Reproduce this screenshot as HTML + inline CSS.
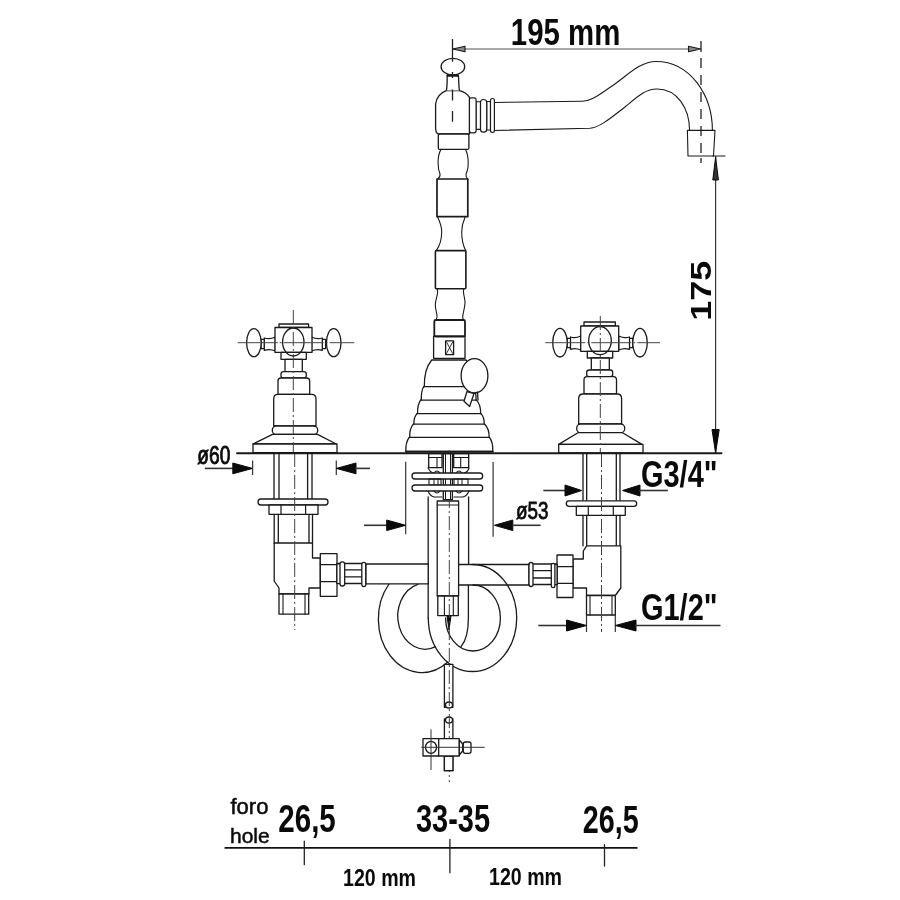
<!DOCTYPE html>
<html><head><meta charset="utf-8">
<style>
html,body{margin:0;padding:0;background:#fff;width:900px;height:900px;overflow:hidden}
svg{display:block;will-change:transform}
text{font-family:"Liberation Sans",sans-serif;fill:#0a0a0a}
.o{fill:none;stroke:#1a1a1a;stroke-width:1.3;stroke-linejoin:round;stroke-linecap:round}
.w{fill:#fff;stroke:#1a1a1a;stroke-width:1.3;stroke-linejoin:round}
.d{fill:none;stroke:#555;stroke-width:1.2}
.c{fill:none;stroke:#444;stroke-width:1;stroke-dasharray:14 3 2 3}
.k{fill:#0a0a0a;stroke:#0a0a0a;stroke-width:1;stroke-linejoin:round}
</style></head>
<body>
<svg width="900" height="900" viewBox="0 0 900 900">
<rect width="900" height="900" fill="#fff"/>

<!-- ===== 195 mm dimension ===== -->
<g id="dim195">
<text x="510.8" y="45" font-size="36.5" font-weight="bold" textLength="109.5" lengthAdjust="spacingAndGlyphs">195 mm</text>
<path class="d" d="M452.4,49 H701"/>
<path class="o" style="stroke-width:1.1;fill:#888" d="M452.8,49 L465,46.2 L465,51.8 Z"/>
<path class="o" style="stroke-width:1.1;fill:#888" d="M700.6,49 L688.5,46.2 L688.5,51.8 Z"/>
<path class="d" style="stroke:#222;stroke-width:1.3" d="M701,41 V52 M701,58 V68 M701,75 V85 M701,92 V102 M701,109 V119 M701,126 V136 M701,143 V153 M701,158 V163"/>
</g>

<!-- ===== spout ===== -->
<g id="spout">
<path class="o" style="stroke-width:1.1" d="M494,102.5 L582,101.3 C592,101 600,94 612,86 C628,75 640,61.5 656,61.5 C690,61.5 712.4,95 712.4,130.5"/>
<path class="o" style="stroke-width:1.1" d="M494,130.5 L590,128.2 C600,127.5 612,117 625,107 C637,97 645,89 657,89 C677,89 689.6,108 689.6,130.5"/>
<path class="o" style="stroke-width:1.1" d="M687.4,130.4 L715,130.4 L713.5,156 L688,156 Z"/>
<path class="o" style="stroke-width:1.2" d="M713,156 H725"/>
<!-- rings -->
<path class="w" style="stroke-width:1.1" d="M476.1,101.7 H480.5 V129.4 H476.1 Z"/>
<path class="w" style="stroke-width:1.1" d="M486.7,101.5 H490.5 V130 H486.7 Z"/>
<rect class="w" style="stroke-width:1.2" x="469.4" y="97.8" width="6.7" height="35" rx="2"/>
<rect class="w" style="stroke-width:1.2" x="480.5" y="99.5" width="6.2" height="32.7" rx="3"/>
<rect class="w" style="stroke-width:1.2" x="490.5" y="98.5" width="3.9" height="34" rx="1.9"/>
<!-- body -->
<path class="w" d="M438.3,134 Q435.6,133 435.6,128 L435.6,104 Q437,94 446.4,90.6 L459.4,90.6 Q466,92 469.4,97.2 L469.4,134 Z"/>
<path class="w" d="M446.4,90.6 C447.5,85 447,79 447.2,75 H458.3 C459,79 458.5,85 459.4,90.6"/>
<path class="o" style="stroke-width:2" d="M447.5,75.8 H458"/>
<ellipse class="w" cx="452.9" cy="66.7" rx="11.8" ry="8.3"/>
<rect class="w" x="438.3" y="134" width="30.6" height="15.4" rx="1.5"/>
<path class="d" style="stroke:#222;stroke-width:1.3" d="M452.5,39 V61.7 M452.5,72 V78 M452.5,89.4 V100.6 M452.5,111 V121.7"/>
</g>

<!-- ===== column ===== -->
<g id="column">
<path class="o" style="stroke-width:1.1" d="M441,149.4 C437,156 437.5,168 440,174 Q440.5,177 437.7,179"/>
<path class="o" style="stroke-width:1.1" d="M465.5,149.4 C469,156 469,168 466,174 Q465.7,177 467.7,179"/>
<rect class="o" style="stroke-width:1.7" x="437" y="179" width="30.8" height="37.7"/>
<path class="o" style="stroke-width:1.1" d="M437.7,217.3 C440,222 441.7,227 441.7,232 C441.7,238 441,244 436.3,250.6"/>
<path class="o" style="stroke-width:1.1" d="M465,217.3 C463,222 461.7,227 461.7,232 C461.7,238 462.3,244 465.7,250.6"/>
<rect class="o" style="stroke-width:1.6" x="435.4" y="250.6" width="30.5" height="38.2" rx="1"/>
<path class="o" style="stroke-width:1.1" d="M437.3,289.3 C439,293 435,300 435.3,305.3 C435.5,311 437.5,314 437,317.3 Q436.5,319 435.7,320"/>
<path class="o" style="stroke-width:1.1" d="M463.7,289.3 C462.5,293 465.5,299 465,303.3 C464.5,310 462.5,314 462.7,317.3 Q463,319 463.7,320"/>
<rect class="o" style="stroke-width:1.8" x="434.3" y="320" width="30.7" height="16.5" rx="1.5"/>
<rect class="o" style="stroke-width:1.3" x="433.6" y="336.1" width="31.4" height="22.2"/>
<rect class="o" style="stroke-width:1.3" x="445.6" y="340.8" width="8" height="13.9"/>
<path class="o" style="stroke-width:0.9" d="M446.5,342 L452.7,353.5 M452.7,342 L446.5,353.5"/>
</g>

<!-- ===== cone base ===== -->
<g id="cone">
<path class="w" d="M431.7,360.0 L466.0,360.0 Q472.8,369.3 472.5,386.7 L473.0,386.7 Q476.3,391.4 476.0,400.1 L476.5,400.1 Q480.9,404.8 480.6,413.6 L481.0,413.6 Q484.5,417.3 484.2,424.2 L484.7,424.2 Q489.4,428.8 489.1,437.4 L489.5,437.4 Q493.1,442.3 492.8,451.5 L405.8,451.5 Q405.5,442.3 409.2,437.4 L409.7,437.4 Q409.4,428.8 413.3,424.2 L413.9,424.2 Q413.6,417.3 417.0,413.6 L417.6,413.6 Q417.3,404.8 420.6,400.1 L421.3,400.1 Q421.0,391.4 423.6,386.7 L424.3,386.7 Q424.0,369.3 431.7,360.0 Z"/>
<path class="o" d="M423.6,386.7 H473.0 M420.6,400.1 H476.5 M417.0,413.6 H481.0 M413.3,424.2 H484.7 M409.2,437.4 H489.5"/>
<path class="o" style="stroke-width:1.8" d="M405.8,451.6 H492.8"/>
<ellipse class="w" cx="474.5" cy="375.7" rx="13.4" ry="17.1"/>
<path class="w" d="M467,391.5 L464,401.3 L469.6,406.5 L474,393.5 Z"/>
<path class="o" d="M474,393.5 L477.5,392 L478,400"/>
</g>


<!-- ===== left handle ===== -->
<g id="lh">
<rect class="w" x="279" y="324" width="29.6" height="3.5"/>
<rect class="w" x="261" y="339.3" width="3.5" height="9.4"/>
<path class="w" d="M264.3,338 Q270,339.8 275.3,337 L275.3,351 Q270,348.5 264.3,350.3 Z"/>
<rect class="w" x="322.1" y="339.3" width="3.5" height="9.4"/>
<path class="w" d="M311.5,337 Q317,339.8 322.3,338 L322.3,350.3 Q317,348.5 311.5,351 Z"/>
<ellipse class="w" cx="253.9" cy="342.7" rx="7.3" ry="14"/>
<ellipse class="w" cx="333.7" cy="342.7" rx="7.3" ry="14"/>
<rect class="w" x="275" y="327.5" width="37" height="24.9"/>
<path class="w" d="M281,352.4 H306.3 V359.3 H281 Z"/>
<ellipse class="w" style="fill:none" cx="293.3" cy="342" rx="10.7" ry="14"/>
<rect class="w" x="285" y="359.3" width="17.3" height="12.3"/>
<rect class="w" x="281" y="371.6" width="25.3" height="6.4" rx="2.5"/>
<path class="w" d="M278,394.4 V381 Q278,378 281,378 H306.5 Q309.7,378 309.7,381 V394.4 Z"/>
<path class="w" d="M273.7,426 V399 Q273.7,394.4 278,394.4 H311.7 Q316,394.4 316,399 V426 Z"/>
<rect class="w" x="272.3" y="426" width="45.4" height="8.4" rx="4"/>
<path class="w" d="M272.5,434.4 L253,444 H336.3 L317.5,434.4 Z"/>
<rect class="w" x="253" y="444" width="84" height="8.7"/>
<path class="c" d="M293.3,310 V453"/>
<path class="c" style="stroke-dasharray:40 2 2 2" d="M237.7,342.7 H354.3"/>
</g>

<!-- ===== right handle ===== -->
<g id="rh">
<rect class="w" x="584" y="322" width="31.3" height="4"/>
<rect class="w" x="567.2" y="338.3" width="3.5" height="9.4"/>
<path class="w" d="M570.5,337 Q575.5,338.8 580.7,336 L580.7,350 Q575.5,347.5 570.5,349.3 Z"/>
<rect class="w" x="629.3" y="338.3" width="3.5" height="9.4"/>
<path class="w" d="M618.7,336 Q624,338.8 629.5,337 L629.5,349.3 Q624,347.5 618.7,350 Z"/>
<ellipse class="w" cx="560" cy="342.7" rx="7.3" ry="14.3"/>
<ellipse class="w" cx="640" cy="342.7" rx="7.3" ry="14.3"/>
<rect class="w" x="580.7" y="326" width="38" height="25.3"/>
<path class="w" d="M587.3,351.3 H612.7 V358 H587.3 Z"/>
<ellipse class="w" style="fill:none" cx="600" cy="340.7" rx="11.3" ry="14"/>
<rect class="w" x="591.3" y="358" width="18" height="12"/>
<rect class="w" x="586.7" y="370" width="26" height="6.7" rx="2.5"/>
<path class="w" d="M584,394 V380 Q584,376.7 587,376.7 H613.5 Q616.5,376.7 616.5,380 V394 Z"/>
<path class="w" d="M578.7,424 V398.5 Q578.7,394 583,394 H617.3 Q621.6,394 621.6,398.5 V424 Z"/>
<rect class="w" x="576.7" y="424" width="48" height="8.7" rx="4"/>
<path class="w" d="M578,432.7 L558.7,444.4 H642 L622.5,432.7 Z"/>
<rect class="w" x="558.7" y="444.4" width="84.3" height="8.6"/>
<path class="c" d="M600.3,316 V453"/>
<path class="c" style="stroke-dasharray:40 2 2 2" d="M545.3,342.7 H660"/>
</g>


<!-- ===== rings / loops ===== -->
<g id="loops">
<path class="o" d="M472.5,564.5 A44.2,53.5 0 1 1 428.3,618"/>
<path class="o" d="M473,585 A27.4,33 0 1 1 445.6,618"/>
<path class="o" d="M389,584 A43.5,53.5 0 0 0 447.8,662"/>
<path class="o" d="M468.4,585.5 V618 Q468.4,638 461,646.7"/>
<path class="o" d="M417.8,584.4 A27.4,33 0 1 0 435.6,646.7"/>
</g>

<!-- ===== central pipe & rod ===== -->
<g id="center">
<path class="o" d="M428.2,497 V618"/>
<path class="o" d="M468.6,497 V564.3"/>
<rect class="w" x="437.2" y="501" width="21.4" height="95"/>
<path class="o" style="stroke-width:1.2" d="M437.2,505 H458.6"/>
<rect class="w" x="437.8" y="596" width="20.5" height="19.6"/>
<path class="o" style="stroke-width:1.1" d="M444.4,596 V615.6 M453.3,596 V615.6"/>
<path class="k" d="M447,615.6 L449,630 L451,615.6 Z"/>
<rect class="w" x="444.4" y="664.3" width="8.5" height="43"/>
<ellipse class="w" cx="449" cy="705" rx="3.5" ry="3"/>
<rect class="w" x="444.4" y="719" width="8.5" height="51.7"/>
<ellipse class="w" cx="449" cy="720" rx="3.5" ry="3"/>
<path class="c" d="M449.3,450 V782"/>
<!-- nuts & washers under deck -->
<rect class="w" x="428.7" y="453.5" width="13.3" height="14.2"/>
<path class="o" style="stroke-width:1.1" d="M428.7,457.5 H442 M437,457.5 V467.7"/>
<rect class="w" x="453.7" y="453.5" width="15" height="14.2"/>
<path class="o" style="stroke-width:1.1" d="M453.7,457.5 H468.7 M460.7,457.5 V467.7"/>
<rect class="w" x="443.3" y="453.5" width="9.1" height="46.2"/>
<path class="o" style="stroke-width:1" d="M445.5,454 V499 M450.5,454 V499"/>
<path class="o" style="stroke-width:1.1" d="M428,468 Q430,472 433,473 M434,473 Q437,469 440,473 M456,473 Q459,469 462,473 M464,473 Q468,472 469,468"/>
<rect class="w" x="412" y="473" width="70.7" height="6" rx="3"/>
<rect class="o" style="stroke-width:1.1" x="429" y="479" width="12" height="6"/>
<rect class="o" style="stroke-width:1.1" x="454" y="479" width="14" height="6"/>
<path class="o" style="stroke-width:1" d="M434,479 V485 M438,479 V485 M458,479 V485 M462,479 V485"/>
<rect class="w" x="412" y="485" width="70.7" height="6" rx="3"/>
<path class="o" style="stroke-width:1.1" d="M428,491 Q430,496 434,497 L442,497 M454,497 L463,497 Q467,496 469,491 M434,491 Q437,495 440,491 M456,491 Q459,495 462,491"/>
</g>

<!-- ===== bottom mechanism ===== -->
<g id="mech">
<rect class="w" x="444.4" y="756" width="8.5" height="14.7"/>
<rect class="w" x="423" y="738.7" width="36.3" height="17.3"/>
<path class="o" d="M438.7,738.7 V756"/>
<path class="w" d="M459.3,740 L462.7,744 V751 L459.3,755 Z"/>
<rect class="w" x="463.3" y="742" width="7.7" height="11.3" rx="2"/>
<ellipse class="o" cx="431" cy="747.3" rx="5.5" ry="6"/>
<path class="d" style="stroke:#333;stroke-width:1" d="M431,729.3 V770"/>
<path class="d" style="stroke:#333;stroke-width:1" d="M421.3,747.3 H484.7"/>
</g>

<!-- ===== left valve below deck ===== -->
<g id="lv">
<path class="o" d="M274,453.5 V499 M279,453.5 V499 M307.6,453.5 V499 M312,453.5 V499"/>
<rect class="w" x="258" y="499" width="70" height="6" rx="3"/>
<rect class="w" x="269" y="505" width="49" height="9.3"/>
<path class="o" style="stroke-width:1.2" d="M281,505 V514.3 M305.6,505 V514.3"/>
<path class="o" d="M274.2,514.3 V543 M278.3,514.3 V543 M309,514.3 V543 M312.5,514.3 V543"/>
<path class="w" d="M274.2,543 V581 L279,588 V594 H309 V588 H320.3 V558 H312.5 V543 Z"/>
<rect class="w" x="279" y="594" width="29.7" height="20.2"/>
<path class="o" style="stroke-width:1.1" d="M283,594 V614 M305,594 V614"/>
<rect class="w" x="320.3" y="553.7" width="16.7" height="42.6"/>
<path class="o" style="stroke-width:1.2" d="M320.3,564.7 H337 M320.3,581.7 H337"/>
<path class="w" d="M337,563.5 H365 V583.5 H337 Z"/>
<path class="o" style="stroke-width:1.3" d="M344,569.8 H363 M344,576.8 H363"/>
<path class="w" style="stroke-width:1.1" d="M337,564 H340.5 V583.5 H337 Z"/>
<rect class="w" x="340" y="561.8" width="4.7" height="24.2" rx="2.2"/>
<rect class="w" x="361.8" y="562.4" width="4" height="24.2" rx="2"/>
<path class="w" d="M366,564 H428.2 V583.8 H366 Z"/>
<path class="c" d="M294.7,453 V630"/>
</g>

<!-- ===== right valve below deck ===== -->
<g id="rv">
<path class="o" d="M583,453.5 V500.8 M586.7,453.5 V500.8 M616.3,453.5 V500.8 M620,453.5 V500.8"/>
<rect class="w" x="566.3" y="500.8" width="70.4" height="5.5" rx="2.7"/>
<rect class="w" x="576.3" y="506.3" width="49" height="9"/>
<path class="o" style="stroke-width:1.2" d="M588.3,506.3 V515.3 M613.3,506.3 V515.3"/>
<path class="o" d="M583,515.3 V545.8 M586.7,515.3 V545.8 M616.3,515.3 V545.8 M620,515.3 V545.8"/>
<path class="w" d="M586.7,545.8 L583.3,551 V559 H573 V588 H586.5 V595.5 H615.3 L620.8,588 V545.8 Z"/>
<rect class="w" x="586.5" y="595.5" width="28.8" height="19.5"/>
<path class="o" style="stroke-width:1.1" d="M590,595.5 V615 M612,595.5 V615"/>
<rect class="w" x="557" y="555" width="16" height="42.5"/>
<path class="o" style="stroke-width:1.2" d="M557,566.7 H573 M557,583.3 H573"/>
<path class="w" d="M529,564 H557 V584.5 H529 Z"/>
<path class="o" style="stroke-width:1.3" d="M533,570.7 H551.5 M533,578 H551.5"/>
<rect class="w" x="529" y="562.5" width="4" height="24" rx="2"/>
<path class="w" style="stroke-width:1.1" d="M554,564.5 H557 V584.5 H554 Z"/>
<rect class="w" x="551.3" y="563.3" width="3.6" height="24.4" rx="1.8"/>
<path class="o" d="M458.6,564.5 H529 M458.6,585 H529"/>
<path class="c" d="M601.5,453 V632"/>
</g>


<!-- ===== dimensions ===== -->
<g id="dims">
<!-- 175 -->
<path class="d" style="stroke:#333" d="M715.6,156 V453.5"/>
<path class="k" style="fill:#333" d="M715.6,157 L712.8,180 L718.4,180 Z"/>
<path class="k" d="M715.6,453 L712,429.5 L719.2,429.5 Z"/>
<text transform="translate(710.7,320.8) rotate(-90)" font-size="30" font-weight="bold" textLength="60" lengthAdjust="spacingAndGlyphs">175</text>
<!-- o60 -->
<text x="197.3" y="463.8" font-size="25.5" textLength="33" lengthAdjust="spacingAndGlyphs" style="stroke:#0a0a0a;stroke-width:0.9">ø60</text>
<path class="d" style="stroke:#333;stroke-width:1.6" d="M204.8,468.4 H234"/>
<path class="k" d="M252.6,468.4 L232.8,463 V473.8 Z"/>
<path class="d" style="stroke:#333" d="M252.6,460.6 V475"/>
<path class="d" style="stroke:#333" d="M336.3,460.6 V475"/>
<path class="k" d="M336.3,468.4 L356,463 V473.8 Z"/>
<path class="d" style="stroke:#333;stroke-width:1.6" d="M355,468.4 H370"/>
<!-- o53 -->
<path class="d" style="stroke:#333" d="M405.7,461.7 V534.3"/>
<path class="d" style="stroke:#333" d="M493.1,462 V536.7"/>
<path class="d" style="stroke:#333;stroke-width:1.6" d="M364,525.3 H388"/>
<path class="k" d="M405.7,525.3 L386.7,520 V530.6 Z"/>
<path class="k" d="M494.4,525.3 L512.8,520 V530.6 Z"/>
<path class="d" style="stroke:#333;stroke-width:1.6" d="M512,525.3 H540.6"/>
<text x="516" y="519.4" font-size="23.6" textLength="32.5" lengthAdjust="spacingAndGlyphs" style="stroke:#0a0a0a;stroke-width:0.8">ø53</text>
<!-- G3/4 -->
<path class="d" style="stroke:#333;stroke-width:1.6" d="M543.3,490.5 H566"/>
<path class="k" d="M581.7,490.5 L565,485 V496 Z"/>
<path class="k" d="M622.5,490.5 L640,485 V496 Z"/>
<path class="d" style="stroke:#333;stroke-width:1.6" d="M639,490.5 H667.8"/>
<text x="641" y="486.7" font-size="36.5" font-weight="bold" textLength="76.5" lengthAdjust="spacingAndGlyphs">G3/4"</text>
<!-- G1/2 -->
<path class="d" style="stroke:#333" d="M586.5,615 V632 M615.3,615 V632"/>
<path class="d" style="stroke:#333;stroke-width:1.6" d="M538.3,625.5 H567"/>
<path class="k" d="M586.5,625.5 L566.5,620 V631 Z"/>
<path class="k" d="M615.3,625.5 L636,620 V631 Z"/>
<path class="d" style="stroke:#333;stroke-width:1.6" d="M635,625.5 H720.5"/>
<text x="641" y="620" font-size="36" font-weight="bold" textLength="76.5" lengthAdjust="spacingAndGlyphs">G1/2"</text>
</g>

<!-- ===== bottom hole spacing ===== -->
<g id="bottom">
<text x="230.5" y="814" font-size="22" style="stroke:#0a0a0a;stroke-width:0.5">foro</text>
<text x="230" y="842.8" font-size="21" style="stroke:#0a0a0a;stroke-width:0.5">hole</text>
<text x="278.3" y="831.8" font-size="39" font-weight="bold" textLength="57.5" lengthAdjust="spacingAndGlyphs">26,5</text>
<text x="416" y="831.8" font-size="39" font-weight="bold" textLength="74" lengthAdjust="spacingAndGlyphs">33-35</text>
<text x="582.8" y="832.8" font-size="39" font-weight="bold" textLength="56" lengthAdjust="spacingAndGlyphs">26,5</text>
<path class="o" style="stroke-width:1.8;stroke:#111" d="M225.3,847.9 H636.8"/>
<path class="o" style="stroke-width:1.3;stroke:#222" d="M304.3,841.2 V864.7 M449.9,839.3 V872.7 M604.5,844.7 V866"/>
<text x="343" y="886" font-size="24.5" font-weight="bold" textLength="73" lengthAdjust="spacingAndGlyphs">120 mm</text>
<text x="489" y="884.7" font-size="24.5" font-weight="bold" textLength="73" lengthAdjust="spacingAndGlyphs">120 mm</text>
</g>

<!-- deck line -->
<path class="o" style="stroke-width:1.9" d="M237,453.3 H721.5"/>

</svg>
</body></html>
